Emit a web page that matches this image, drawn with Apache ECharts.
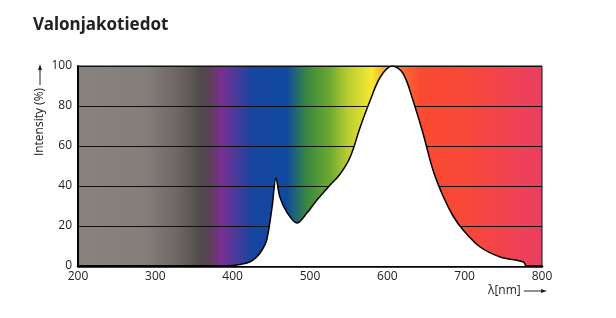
<!DOCTYPE html>
<html><head><meta charset="utf-8">
<script src="https://cdn.jsdelivr.net/npm/echarts@6/dist/echarts.min.js"></script>
<style>html,body{margin:0;padding:0;background:#fff}#c{width:616px;height:318px}</style>
</head><body><div id="c"></div>
<script>
const titleText = 'Valonjakotiedot';
const xTicks = [200, 300, 400, 500, 600, 700, 800];
const yTicks = [0, 20, 40, 60, 80, 100];
const wavelengths = [200, 380, 392, 410, 422, 431, 438, 444, 451, 456, 461, 470, 483, 496, 509, 526, 539, 552, 565, 578, 591, 606, 620, 633, 646, 659, 672, 685, 698, 720, 746, 776, 780, 800];
const intensity =   [0,   0,   0,   0.8, 2,   4.5, 8,   13,  29.5, 44, 34.5, 27, 21.5, 26.5, 33, 40.5, 46, 54.5, 69.5, 83, 94.5, 100, 96.5, 83, 66.5, 48, 35, 25, 18, 9.5, 4.5, 2, 0, 0];
// spectrum background colour stops (wavelength, colour)
const spectrumNm = [200, 290, 330, 360, 372, 385, 405, 425, 470, 496, 525, 548, 580, 598, 618, 642, 700, 800];
const spectrumColor = ['#88837f', '#847e7b', '#6c6563', '#4f4a48', '#5e3e5c', '#7a3090', '#4a3a9c', '#1845a0', '#0e4aa0', '#3a8840', '#6aa830', '#b8cc30', '#f8e830', '#f9a030', '#f87030', '#fa4a30', '#f84838', '#ea3e64'];

const xMin = 200, xMax = 800;
const stops = spectrumNm.map((n, i) => ({offset: (n - xMin) / (xMax - xMin), color: spectrumColor[i]}));

const chart = echarts.init(document.getElementById('c'), null, {renderer: 'canvas'});
const font = 'Open Sans';
chart.setOption({
  animation: false,
  title: {text: titleText, left: 28, top: 12, textStyle: {fontFamily: 'Noto Sans', fontSize: 17, fontWeight: 'bold', color: '#222'}},
  grid: {left: 78, right: 74, top: 66, bottom: 52, show: true, borderColor: '#111', borderWidth: 1,
    backgroundColor: new echarts.graphic.LinearGradient(0, 0, 1, 0, stops)},
  xAxis: {type: 'value', min: xMin, max: xMax, interval: 100,
    axisLine: {show: true, onZero: false, lineStyle: {color: '#000', width: 2.5}},
    axisTick: {show: false}, splitLine: {show: false},
    axisLabel: {margin: 5, fontFamily: font, fontSize: 12, color: '#222',
      formatter: v => xTicks.includes(v) ? String(v) : ''}},
  yAxis: {type: 'value', min: 0, max: 100, interval: 20,
    axisLine: {show: true, lineStyle: {color: '#000', width: 2}},
    axisTick: {show: false},
    splitLine: {show: true, lineStyle: {color: '#111', width: 1}},
    axisLabel: {margin: 6, fontFamily: font, fontSize: 12, color: '#222',
      formatter: v => yTicks.includes(v) ? String(v) : ''}},
  series: [{type: 'line', data: wavelengths.map((w, i) => [w, intensity[i]]), smooth: 0.35,
    symbol: 'none', lineStyle: {color: '#000', width: 1.5},
    areaStyle: {color: '#fff', opacity: 1}, z: 3}],
  graphic: [
    {type: 'text', x: 40, y: 122, rotation: Math.PI / 2,
      style: {text: 'Intensity (%)', fontFamily: font, fontSize: 12, fill: '#222', textAlign: 'center', textVerticalAlign: 'middle'}},
    {type: 'line', shape: {x1: 40, y1: 85, x2: 40, y2: 68}, style: {stroke: '#222', lineWidth: 1}},
    {type: 'polygon', shape: {points: [[40, 64], [38, 70], [42, 70]]}, style: {fill: '#222'}},
    {type: 'text', x: 488, y: 291,
      style: {text: 'λ[nm]', fontFamily: font, fontSize: 12, fill: '#222', textAlign: 'left', textVerticalAlign: 'middle'}},
    {type: 'line', shape: {x1: 524, y1: 291, x2: 542, y2: 291}, style: {stroke: '#222', lineWidth: 1}},
    {type: 'polygon', shape: {points: [[547, 291], [541, 289], [541, 293]]}, style: {fill: '#222'}}
  ]
});
</script></body></html>
